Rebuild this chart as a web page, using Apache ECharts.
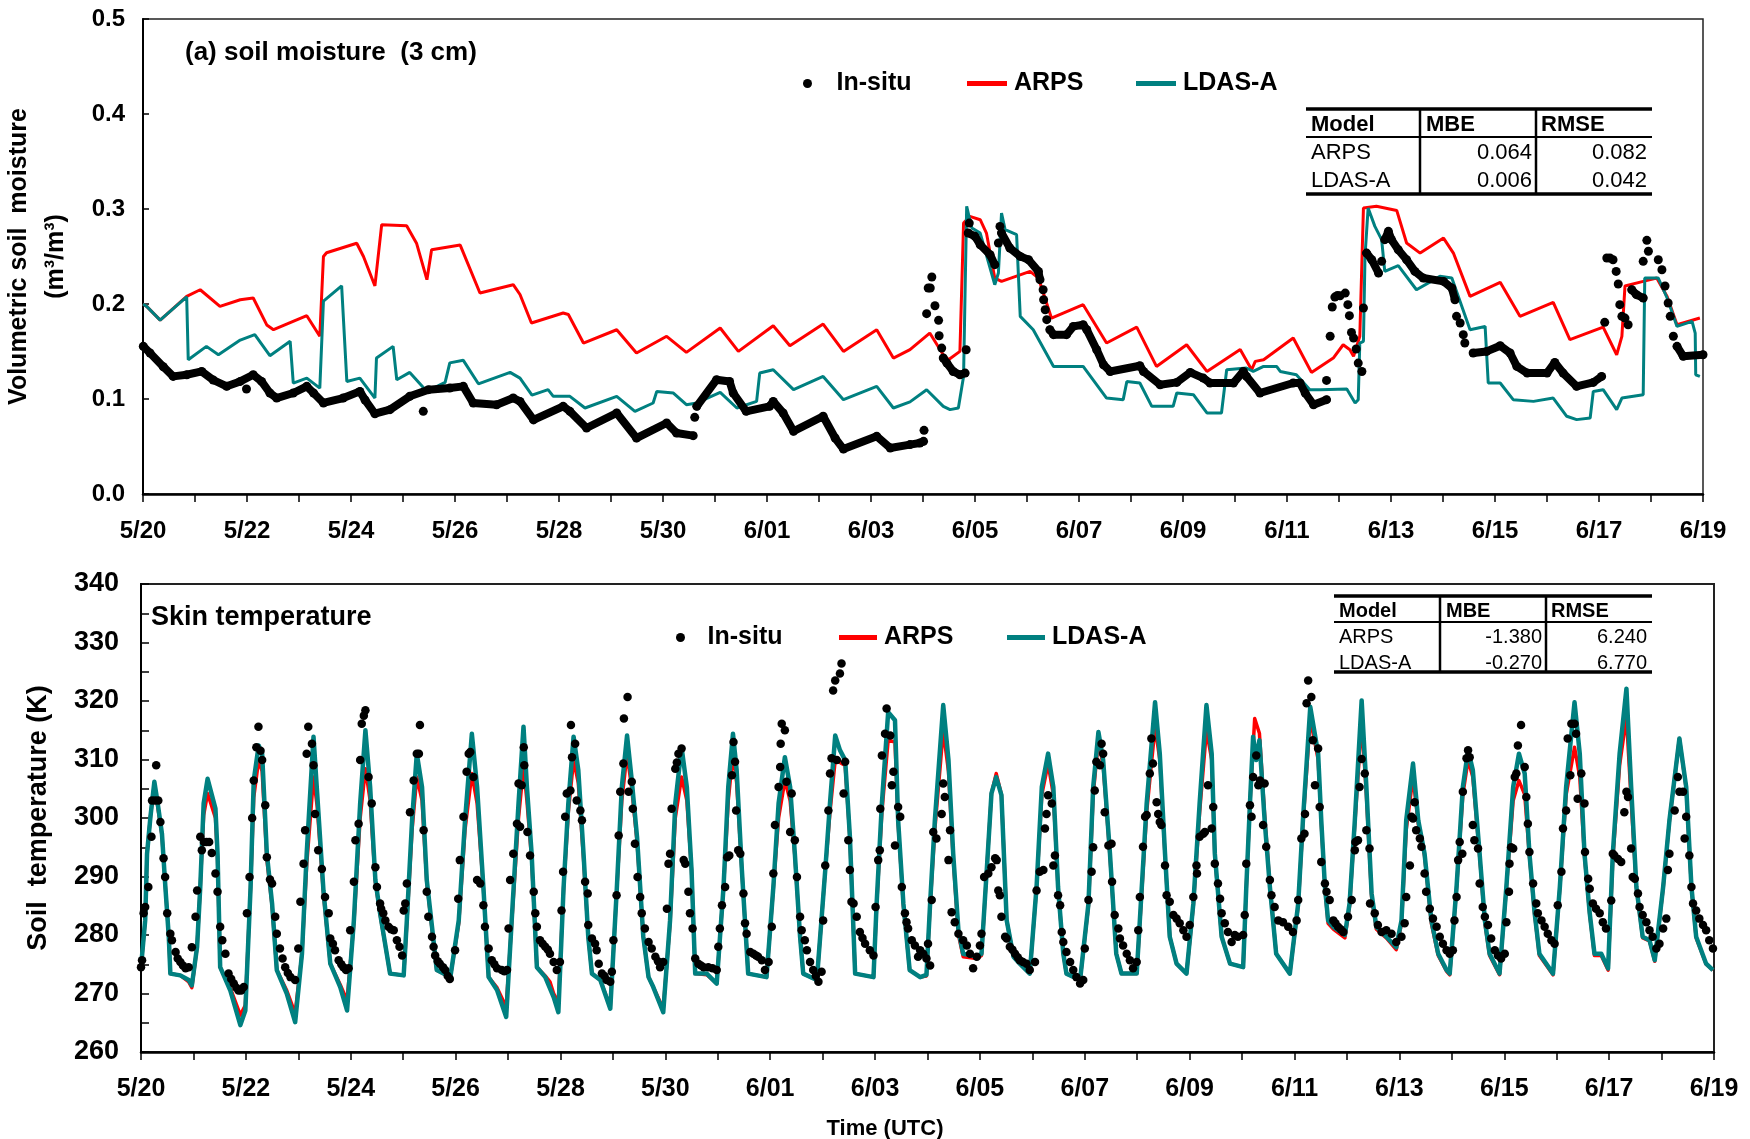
<!DOCTYPE html>
<html><head><meta charset="utf-8">
<script src="https://cdn.jsdelivr.net/npm/echarts/dist/echarts.min.js"></script>
<style>html,body{margin:0;padding:0;background:#fff}#c{width:1750px;height:1139px}</style>
</head><body><div id="c"></div>
<script>
const FONT = "'Liberation Sans', Arial, sans-serif";
// x values are days after 5/20 00 UTC
const dateLabels = ['5/20','5/22','5/24','5/26','5/28','5/30','6/01','6/03','6/05','6/07','6/09','6/11','6/13','6/15','6/17','6/19'];
const seriesNames = ['In-situ','ARPS','LDAS-A'];
const tableTop = [['Model','MBE','RMSE'],['ARPS','0.064','0.082'],['LDAS-A','0.006','0.042']];
const tableBottom = [['Model','MBE','RMSE'],['ARPS','-1.380','6.240'],['LDAS-A','-0.270','6.770']];

// ---------- (a) soil moisture 3 cm ----------
const smARPS = [[0.0,0.200],[0.07,0.1975],[0.33,0.183],[0.455,0.189],[0.84,0.208],[1.10,0.215],[1.48,0.1975],[1.87,0.2045],[2.12,0.2063],[2.38,0.178],[2.51,0.173],[3.15,0.1877],[3.40,0.166],[3.47,0.250],[3.53,0.254],[4.11,0.264],[4.24,0.250],[4.46,0.219],[4.59,0.2835],[5.07,0.2824],[5.26,0.264],[5.46,0.2256],[5.55,0.257],[6.10,0.262],[6.48,0.2116],[7.12,0.2203],[7.25,0.210],[7.47,0.180],[8.08,0.1905],[8.18,0.189],[8.47,0.1589],[9.11,0.1729],[9.49,0.1484],[10.07,0.166],[10.45,0.1491],[11.10,0.1747],[11.45,0.1501],[12.12,0.1771],[12.44,0.1561],[13.08,0.1789],[13.47,0.1501],[14.11,0.1729],[14.43,0.1431],[14.75,0.152],[15.13,0.1694],[15.39,0.1466],[15.49,0.1414],[15.71,0.1501],[15.78,0.2852],[15.90,0.2922],[16.10,0.2887],[16.22,0.2747],[16.38,0.2273],[16.51,0.2238],[17.06,0.2343],[17.22,0.2273],[17.47,0.1852],[18.08,0.1993],[18.53,0.1589],[19.11,0.1757],[19.49,0.1343],[20.07,0.1571],[20.46,0.129],[21.10,0.152],[21.32,0.1308],[21.39,0.1396],[21.55,0.1414],[22.12,0.1642],[22.47,0.128],[22.89,0.1431],[23.08,0.1571],[23.21,0.1519],[23.28,0.1449],[23.40,0.166],[23.47,0.301],[23.72,0.3028],[24.11,0.2985],[24.30,0.2642],[24.56,0.2536],[25.01,0.2694],[25.20,0.2536],[25.52,0.208],[26.10,0.2228],[26.48,0.187],[27.12,0.2017],[27.44,0.1624],[28.08,0.1757],[28.34,0.1466],[28.44,0.166],[28.50,0.219],[28.85,0.2238],[29.11,0.2273],[29.31,0.208],[29.50,0.1782],[29.94,0.1852]];
const smLDAS = [[0.0,0.200],[0.07,0.1975],[0.33,0.183],[0.455,0.189],[0.84,0.2075],[0.87,0.1414],[1.22,0.1554],[1.45,0.1466],[1.87,0.162],[2.15,0.1677],[2.44,0.1456],[2.83,0.1607],[2.89,0.1168],[3.15,0.122],[3.40,0.1115],[3.47,0.203],[3.82,0.219],[3.92,0.1185],[4.17,0.122],[4.46,0.101],[4.49,0.1431],[4.81,0.1554],[4.88,0.1203],[5.13,0.128],[5.46,0.108],[5.81,0.1175],[5.90,0.138],[6.16,0.1407],[6.45,0.116],[7.06,0.128],[7.25,0.122],[7.48,0.104],[7.79,0.1098],[7.89,0.1028],[8.21,0.1028],[8.50,0.0905],[9.11,0.1028],[9.46,0.087],[9.81,0.0958],[9.88,0.108],[10.20,0.1063],[10.45,0.094],[10.65,0.0958],[11.10,0.107],[11.42,0.0905],[11.80,0.0975],[11.86,0.1273],[12.12,0.1308],[12.51,0.1098],[13.08,0.1238],[13.47,0.0993],[14.11,0.1133],[14.43,0.0905],[14.75,0.097],[15.07,0.1098],[15.39,0.0923],[15.52,0.0888],[15.68,0.0905],[15.78,0.1238],[15.81,0.215],[15.84,0.3028],[15.90,0.2887],[15.94,0.280],[16.10,0.2747],[16.38,0.2203],[16.45,0.2326],[16.51,0.2957],[16.58,0.2782],[16.80,0.2729],[16.87,0.187],[17.12,0.1729],[17.51,0.1343],[18.08,0.1343],[18.53,0.101],[18.85,0.0993],[18.92,0.1185],[19.17,0.1168],[19.40,0.0923],[19.81,0.0923],[19.88,0.1063],[20.20,0.1045],[20.46,0.0853],[20.74,0.0853],[20.84,0.1308],[21.22,0.1326],[21.35,0.129],[21.55,0.1343],[21.80,0.1343],[21.87,0.129],[22.18,0.1255],[22.44,0.1098],[22.64,0.1098],[23.15,0.1105],[23.31,0.0958],[23.37,0.0993],[23.40,0.1589],[23.47,0.1607],[23.50,0.250],[23.56,0.301],[23.69,0.2817],[23.82,0.2677],[23.88,0.2343],[24.14,0.2403],[24.49,0.215],[24.94,0.2291],[25.17,0.2273],[25.52,0.1729],[25.81,0.1764],[25.87,0.1168],[26.10,0.1168],[26.35,0.0993],[26.74,0.0975],[27.12,0.101],[27.38,0.0818],[27.57,0.0783],[27.83,0.080],[27.89,0.108],[28.08,0.1098],[28.34,0.0888],[28.44,0.101],[28.85,0.1045],[28.88,0.2273],[29.14,0.2273],[29.31,0.2063],[29.50,0.1764],[29.79,0.1817],[29.85,0.1694],[29.86,0.1255],[29.94,0.1238]];
// in-situ hourly observations: continuous runs of dots
const smInsituRuns = [
 [[0.006,0.1554],[0.135,0.1484],[0.39,0.134],[0.58,0.1238],[0.84,0.1255],[1.13,0.129],[1.35,0.120],[1.61,0.1133],[1.87,0.1185],[2.12,0.1255],[2.28,0.1185],[2.44,0.1063],[2.57,0.101],[2.89,0.1063],[3.15,0.1133],[3.28,0.1063],[3.47,0.0958],[3.85,0.101],[4.17,0.108],[4.27,0.099],[4.46,0.0845],[4.75,0.0888],[5.13,0.1028],[5.49,0.1098],[5.90,0.1115],[6.16,0.1133],[6.35,0.0958],[6.80,0.094],[7.12,0.101],[7.25,0.0975],[7.51,0.078],[8.08,0.0923],[8.21,0.087],[8.53,0.0695],[9.11,0.0853],[9.49,0.0589],[10.07,0.0747],[10.26,0.0642],[10.58,0.0614]],
 [[10.65,0.0923],[11.03,0.1203],[11.28,0.1185],[11.35,0.1063],[11.60,0.087],[12.05,0.0923],[12.12,0.0975],[12.31,0.0853],[12.51,0.066],[13.08,0.0818],[13.31,0.0589],[13.47,0.0473],[14.11,0.0607],[14.37,0.0484],[14.75,0.052],[14.94,0.0537],[15.01,0.0554]],
 [[15.39,0.1431],[15.46,0.1378],[15.58,0.129],[15.71,0.1255],[15.81,0.1273]],
 [[15.87,0.2747],[16.00,0.2712],[16.10,0.2624],[16.29,0.2519],[16.38,0.2414]],
 [[16.51,0.2747],[16.67,0.2589],[16.87,0.2501],[17.03,0.2466],[17.22,0.2343],[17.25,0.2256]],
 [[17.44,0.1729],[17.51,0.1677],[17.76,0.1677],[17.89,0.1764],[18.08,0.1782],[18.15,0.1729],[18.34,0.1519],[18.47,0.1361],[18.60,0.129],[19.17,0.135],[19.24,0.129],[19.56,0.115],[19.88,0.1175],[20.14,0.128],[20.39,0.122],[20.52,0.1168],[20.97,0.1168],[21.16,0.129],[21.22,0.1238],[21.48,0.1063],[22.12,0.1168],[22.25,0.1168],[22.35,0.1063],[22.51,0.094],[22.76,0.0993]],
 [[23.53,0.2536],[23.63,0.2466],[23.76,0.2326]],
 [[23.88,0.2677],[23.95,0.2765],[24.01,0.2677],[24.14,0.2571],[24.30,0.2466],[24.46,0.2343],[24.62,0.2273],[25.01,0.2238],[25.17,0.2168],[25.23,0.2045]],
 [[25.58,0.1484],[25.84,0.1501],[26.10,0.1561],[26.29,0.1484],[26.42,0.1343],[26.62,0.1273],[27.00,0.1273],[27.15,0.1385],[27.31,0.1273],[27.57,0.1133],[27.89,0.1175],[28.05,0.1238]],
 [[28.63,0.215],[28.72,0.2098],[28.85,0.2063]],
 [[29.50,0.1554],[29.62,0.1449],[30.0,0.1466]]
];
// in-situ isolated dots
const smInsituDots = [[1.99,0.1105],[5.39,0.087],[10.61,0.0807],[15.02,0.067],[15.07,0.1898],[15.10,0.2168],[15.14,0.2168],[15.17,0.2284],[15.23,0.1982],[15.30,0.1828],[15.31,0.1666],[15.36,0.1536],[15.83,0.1519],[15.89,0.2852],[16.45,0.2642],[16.48,0.2817],[17.31,0.215],[17.32,0.2045],[17.35,0.194],[17.38,0.1835],[22.76,0.1196],[22.83,0.166],[22.87,0.1968],[22.92,0.2073],[22.97,0.209],[23.02,0.2087],[23.12,0.2115],[23.17,0.1993],[23.20,0.1877],[23.24,0.1701],[23.28,0.1642],[23.33,0.1526],[23.37,0.1378],[23.44,0.129],[23.47,0.1958],[23.82,0.2449],[25.26,0.187],[25.33,0.18],[25.39,0.1677],[25.42,0.1589],[28.11,0.1807],[28.15,0.2484],[28.21,0.2484],[28.27,0.2466],[28.33,0.2343],[28.37,0.221],[28.40,0.1993],[28.44,0.187],[28.50,0.1852],[28.56,0.1782],[28.85,0.2449],[28.92,0.267],[28.95,0.2555],[29.14,0.2466],[29.21,0.2361],[29.27,0.219],[29.33,0.201],[29.37,0.187],[29.43,0.166]];

// ---------- Skin temperature (K) ----------
const stLDAS = [[0.0,274.5],[0.08,282.5],[0.115,293.9],[0.18,300.2],[0.255,306.2],[0.31,303.0],[0.40,297.3],[0.465,288.2],[0.53,279.7],[0.56,273.4],[0.75,273.1],[0.91,272.3],[0.97,271.4],
[1.07,278.0],[1.13,288.2],[1.195,302.5],[1.27,306.7],[1.42,301.6],[1.46,293.9],[1.51,274.5],[1.70,270.6],[1.895,264.6],
[1.99,267.1],[2.09,288.2],[2.15,306.4],[2.244,312.4],[2.31,311.0],[2.40,293.9],[2.50,285.4],[2.59,274.0],[2.78,270.0],[2.94,265.1],
[3.07,276.8],[3.16,293.9],[3.29,313.9],[3.36,304.2],[3.48,287.6],[3.61,275.1],[3.80,271.1],[3.93,267.1],
[4.06,282.5],[4.18,302.5],[4.28,315.0],[4.37,305.3],[4.47,289.4],[4.56,283.7],[4.75,273.4],[5.01,273.1],
[5.07,282.5],[5.17,299.6],[5.26,311.0],[5.36,305.3],[5.45,289.4],[5.55,281.4],[5.64,274.0],[5.90,272.8],
[6.06,282.5],[6.18,299.6],[6.31,314.4],[6.41,305.3],[6.53,288.2],[6.63,272.8],[6.79,270.6],[6.965,266.0],
[7.07,282.5],[7.20,302.5],[7.295,315.6],[7.36,305.3],[7.45,293.9],[7.55,274.5],[7.71,272.8],[7.87,269.4],[7.96,266.8],
[8.06,288.2],[8.15,302.5],[8.25,313.9],[8.34,308.2],[8.44,293.9],[8.53,279.7],[8.60,273.4],[8.76,272.3],[8.95,267.4],
[9.07,287.1],[9.17,305.3],[9.27,314.1],[9.36,306.4],[9.46,296.8],[9.58,279.7],[9.68,272.8],[9.77,271.1],[9.96,266.8],
[10.09,282.5],[10.19,302.5],[10.31,312.1],[10.41,305.3],[10.50,291.1],[10.57,273.4],[10.79,273.4],[10.98,271.7],
[11.11,288.2],[11.20,305.3],[11.29,314.4],[11.36,308.2],[11.46,291.1],[11.58,273.4],[11.93,272.8],
[12.06,288.2],[12.16,302.5],[12.28,310.4],[12.38,305.3],[12.47,293.9],[12.57,279.7],[12.63,273.4],[12.89,272.3],
[13.05,291.1],[13.14,302.5],[13.24,314.1],[13.33,311.6],[13.43,309.9],[13.52,296.8],[13.62,273.4],[13.97,272.8],
[14.03,285.4],[14.13,302.5],[14.25,318.1],[14.38,316.7],[14.44,299.6],[14.54,285.4],[14.66,274.0],[14.86,272.8],[14.98,273.2],
[15.05,285.4],[15.14,299.6],[15.30,319.3],[15.40,309.9],[15.49,293.9],[15.59,280.8],[15.68,276.8],[15.94,276.3],[16.03,276.8],
[16.13,291.1],[16.22,304.2],[16.31,307.0],[16.41,303.9],[16.51,282.5],[16.64,276.3],[16.76,275.1],[16.95,273.4],
[17.08,288.2],[17.18,305.3],[17.30,311.0],[17.40,305.3],[17.49,288.2],[17.59,276.8],[17.65,273.4],[17.91,272.3],
[18.07,285.4],[18.16,305.3],[18.26,314.7],[18.35,309.9],[18.48,293.9],[18.60,276.8],[18.70,273.4],[18.99,273.4],
[19.05,282.5],[19.18,302.5],[19.34,319.8],[19.43,311.0],[19.53,293.9],[19.62,279.7],[19.75,275.1],[19.94,273.4],
[20.07,285.4],[20.19,302.5],[20.32,319.3],[20.42,311.0],[20.48,293.9],[20.61,279.7],[20.77,275.1],[21.02,274.5],
[21.08,288.2],[21.15,302.5],[21.21,313.9],[21.27,309.9],[21.33,313.3],[21.43,299.6],[21.53,288.2],[21.65,276.8],[21.91,273.4],
[22.07,285.4],[22.16,299.6],[22.30,319.0],[22.45,311.0],[22.51,299.6],[22.58,288.2],[22.64,282.5],[22.74,281.4],[22.96,280.0],
[23.05,285.4],[23.15,299.6],[23.28,320.1],[23.37,305.3],[23.47,287.1],[23.56,281.4],[23.75,279.7],[23.94,277.9],
[24.04,282.5],[24.13,299.6],[24.26,309.3],[24.36,299.6],[24.48,293.9],[24.61,282.5],[24.74,276.8],[24.90,274.0],[24.96,273.4],
[25.09,288.2],[25.21,305.3],[25.31,311.6],[25.40,308.2],[25.53,293.9],[25.63,282.5],[25.72,276.8],[25.91,273.4],
[26.04,288.2],[26.17,305.3],[26.28,311.0],[26.39,307.6],[26.48,293.9],[26.58,283.7],[26.67,276.8],[26.93,273.4],
[27.06,288.2],[27.18,305.3],[27.34,319.8],[27.44,311.0],[27.53,293.9],[27.63,283.7],[27.72,276.8],[27.85,276.8],[27.98,274.3],
[28.07,293.9],[28.20,311.0],[28.33,322.1],[28.42,305.3],[28.52,288.2],[28.64,279.7],[28.77,279.1],[28.87,275.7],
[29.03,288.2],[29.15,299.6],[29.34,313.6],[29.47,305.3],[29.57,288.2],[29.66,279.7],[29.85,275.1],[29.98,274.0]];
const stARPS = [[0.0,274.5],[0.08,282.5],[0.115,293.9],[0.18,300.2],[0.255,305.8],[0.31,302.5],[0.40,297.0],[0.465,288.2],[0.53,279.7],[0.56,273.4],[0.75,273.1],[0.91,272.0],[0.97,271.0],
[1.07,278.0],[1.13,288.2],[1.195,300.5],[1.27,304.2],[1.42,300.0],[1.46,293.0],[1.51,274.5],[1.70,271.0],[1.895,266.3],
[1.99,268.0],[2.09,288.2],[2.15,303.5],[2.244,309.9],[2.31,308.0],[2.40,293.0],[2.50,285.0],[2.59,274.0],[2.78,270.5],[2.94,266.6],
[3.07,276.8],[3.16,292.0],[3.29,307.0],[3.36,302.0],[3.48,287.0],[3.61,275.1],[3.80,271.5],[3.93,268.8],
[4.06,282.0],[4.18,300.0],[4.28,308.4],[4.37,303.0],[4.47,289.0],[4.56,283.5],[4.75,273.4],[5.01,273.1],
[5.07,282.0],[5.17,298.0],[5.26,307.0],[5.36,303.0],[5.45,289.0],[5.55,281.0],[5.64,274.0],[5.90,272.8],
[6.06,282.0],[6.18,298.0],[6.31,307.6],[6.41,302.5],[6.53,288.0],[6.63,272.8],[6.79,271.0],[6.965,267.7],
[7.07,282.0],[7.20,300.0],[7.295,308.7],[7.36,303.0],[7.45,293.0],[7.55,274.5],[7.71,273.0],[7.80,272.0],[7.87,270.0],[7.96,268.5],
[8.06,288.0],[8.15,301.0],[8.25,309.9],[8.34,306.0],[8.44,293.0],[8.53,279.7],[8.60,273.4],[8.76,272.3],[8.95,267.7],
[9.07,287.0],[9.17,303.0],[9.27,311.0],[9.36,305.0],[9.46,296.0],[9.58,279.7],[9.68,272.8],[9.77,271.1],[9.96,267.4],
[10.09,282.0],[10.19,300.0],[10.31,307.0],[10.41,303.0],[10.50,291.0],[10.57,273.4],[10.79,273.2],[10.98,271.7],
[11.11,288.0],[11.20,303.0],[11.29,311.0],[11.36,306.0],[11.46,291.0],[11.58,273.4],[11.93,272.8],
[12.06,288.0],[12.16,300.0],[12.28,306.4],[12.38,303.0],[12.47,293.5],[12.57,279.7],[12.63,273.4],[12.89,272.3],
[13.05,291.0],[13.14,301.0],[13.24,309.9],[13.33,309.5],[13.43,309.0],[13.52,296.5],[13.62,273.4],[13.97,272.8],
[14.03,285.0],[14.13,301.0],[14.25,313.3],[14.38,313.0],[14.44,299.0],[14.54,285.0],[14.66,274.0],[14.86,272.8],[14.98,273.0],
[15.05,285.0],[15.14,298.0],[15.30,315.0],[15.40,308.0],[15.49,293.0],[15.59,280.0],[15.68,276.3],[15.94,276.0],[16.03,276.5],
[16.13,291.1],[16.22,304.2],[16.31,307.6],[16.41,304.0],[16.51,282.5],[16.64,276.3],[16.76,275.1],[16.95,273.4],
[17.08,288.0],[17.18,304.0],[17.30,309.3],[17.40,304.0],[17.49,288.0],[17.59,276.8],[17.65,273.4],[17.91,272.3],
[18.07,285.0],[18.16,304.0],[18.26,313.3],[18.35,309.0],[18.48,293.5],[18.60,276.8],[18.70,273.4],[18.99,273.4],
[19.05,282.0],[19.18,301.0],[19.34,315.6],[19.43,310.0],[19.53,293.5],[19.62,279.7],[19.75,275.1],[19.94,273.4],
[20.07,285.0],[20.19,301.0],[20.32,315.0],[20.42,310.0],[20.48,293.5],[20.61,279.7],[20.77,275.1],[21.02,274.5],
[21.08,288.0],[21.15,302.5],[21.24,317.0],[21.33,314.5],[21.43,300.5],[21.53,288.5],[21.65,276.8],[21.91,273.4],
[22.07,285.0],[22.16,299.0],[22.30,317.0],[22.45,310.0],[22.51,299.0],[22.58,288.0],[22.64,282.0],[22.74,281.0],[22.96,279.5],
[23.05,285.0],[23.15,299.0],[23.28,316.7],[23.37,304.0],[23.47,286.5],[23.56,281.0],[23.75,279.5],[23.94,277.5],
[24.04,282.0],[24.13,298.0],[24.26,307.0],[24.36,299.0],[24.48,293.5],[24.61,282.0],[24.74,276.5],[24.90,273.8],[24.96,273.2],
[25.09,288.0],[25.21,304.0],[25.31,309.9],[25.40,307.0],[25.53,293.5],[25.63,282.0],[25.72,276.5],[25.91,273.2],
[26.04,288.0],[26.17,303.0],[26.28,306.4],[26.39,304.0],[26.48,293.5],[26.58,283.5],[26.67,276.5],[26.93,273.2],
[27.06,288.0],[27.18,304.0],[27.34,312.1],[27.44,307.0],[27.53,293.5],[27.63,283.5],[27.72,276.5],[27.85,276.5],[27.98,274.0],
[28.07,293.0],[28.20,309.0],[28.33,317.3],[28.42,303.0],[28.52,288.0],[28.64,279.5],[28.77,279.0],[28.87,275.5],
[29.03,288.0],[29.15,299.5],[29.34,313.6],[29.47,305.0],[29.57,288.0],[29.66,279.5],[29.85,275.0],[29.98,274.0]];
const stInsitu = [
[0.0,274.5],[0.02,275.7],[0.05,283.7],[0.08,284.8],[0.14,288.2],[0.20,296.8],[0.21,303.0],[0.27,303.0],[0.29,309.0],[0.33,303.0],[0.37,299.3],[0.43,293.1],[0.46,289.9],[0.50,283.7],[0.56,280.2],[0.59,279.1],[0.66,277.1],[0.70,276.0],[0.75,275.4],[0.80,274.8],[0.85,274.3],[0.91,274.5],[0.97,277.9],
[1.04,283.1],[1.07,287.6],[1.13,296.8],[1.16,294.5],[1.20,295.9],[1.25,295.9],[1.30,295.9],[1.35,294.0],[1.42,290.5],[1.46,287.4],[1.51,281.4],[1.55,279.1],[1.61,276.8],[1.67,273.4],[1.72,272.5],[1.77,271.7],[1.82,271.0],[1.86,270.5],[1.91,270.5],[1.96,271.1],
[2.02,283.7],[2.07,289.9],[2.12,300.0],[2.15,306.4],[2.20,312.1],[2.24,315.6],[2.28,311.5],[2.31,309.9],[2.37,302.2],[2.40,293.3],[2.46,289.5],[2.50,288.8],[2.56,283.1],[2.59,280.2],[2.65,277.7],[2.70,276.0],[2.75,274.5],[2.80,273.5],[2.85,272.8],[2.94,272.3],[3.00,277.7],
[3.04,285.7],[3.10,292.2],[3.13,297.9],[3.16,311.0],[3.19,315.6],[3.26,312.7],[3.29,309.0],[3.32,300.7],[3.38,294.5],[3.45,291.3],[3.51,286.5],[3.58,283.7],[3.61,279.4],[3.66,278.5],[3.70,277.4],[3.77,275.7],[3.82,275.0],[3.86,274.5],[3.91,274.0],[3.96,274.3],[3.99,280.8],
[4.06,289.1],[4.09,296.2],[4.15,299.0],[4.18,309.9],[4.21,316.1],[4.25,317.5],[4.28,318.4],[4.34,307.0],[4.40,302.5],[4.47,291.6],[4.50,288.2],[4.56,285.4],[4.58,284.5],[4.62,283.7],[4.66,282.5],[4.72,281.4],[4.77,281.0],[4.82,280.8],[4.88,279.1],[4.93,278.0],[4.98,276.5],[5.01,284.2],
[5.04,285.4],[5.07,288.8],[5.13,301.0],[5.20,306.4],[5.26,311.0],[5.30,311.0],[5.32,315.9],[5.39,297.9],[5.45,287.4],[5.48,283.1],[5.55,279.7],[5.58,278.0],[5.61,276.5],[5.66,275.5],[5.70,275.1],[5.76,274.5],[5.80,274.0],[5.85,273.0],[5.89,272.5],[5.99,277.4],
[6.05,286.2],[6.08,292.8],[6.15,300.2],[6.21,307.9],[6.25,311.0],[6.28,311.3],[6.34,307.0],[6.41,289.4],[6.47,288.8],[6.53,285.1],[6.56,281.4],[6.63,277.7],[6.69,275.7],[6.74,275.0],[6.79,274.3],[6.88,274.0],[6.93,273.8],[6.98,274.0],[7.01,281.1],
[7.04,289.4],[7.10,293.9],[7.17,299.0],[7.20,305.9],[7.23,298.5],[7.26,305.6],[7.30,312.1],[7.31,309.0],[7.37,297.6],[7.42,293.6],[7.49,287.4],[7.52,283.7],[7.55,281.4],[7.61,279.1],[7.66,278.5],[7.71,278.0],[7.76,277.5],[7.80,276.8],[7.87,275.4],[7.93,274.0],[7.99,275.4],
[8.02,284.2],[8.05,290.8],[8.09,300.2],[8.12,304.2],[8.19,304.7],[8.20,315.9],[8.22,310.4],[8.28,312.7],[8.31,303.0],[8.38,301.3],[8.41,299.6],[8.47,289.1],[8.52,287.1],[8.53,281.7],[8.60,279.4],[8.66,278.5],[8.69,277.4],[8.73,275.1],[8.79,273.4],[8.84,273.0],[8.88,272.3],[8.95,272.0],[8.98,273.7],
[9.01,279.1],[9.07,286.8],[9.11,297.0],[9.14,304.5],[9.20,309.3],[9.21,317.0],[9.28,320.7],[9.30,304.5],[9.36,306.2],[9.38,301.6],[9.42,295.6],[9.47,289.9],[9.52,286.5],[9.55,283.7],[9.61,281.1],[9.68,278.8],[9.74,277.7],[9.81,276.3],[9.86,275.5],[9.90,274.5],[9.96,275.4],
[10.03,284.5],[10.06,292.2],[10.09,293.9],[10.12,301.6],[10.19,308.4],[10.22,309.5],[10.25,311.0],[10.31,311.9],[10.35,292.8],[10.38,292.2],[10.44,287.4],[10.47,283.7],[10.52,281.1],[10.57,276.0],[10.63,275.1],[10.68,274.8],[10.73,274.5],[10.82,274.5],[10.90,274.3],[10.98,274.0],[11.01,278.0],
[11.04,281.1],[11.08,285.1],[11.14,288.2],[11.18,293.3],[11.22,293.6],[11.27,307.3],[11.30,313.0],[11.33,309.6],[11.35,301.3],[11.39,294.5],[11.43,293.9],[11.49,287.1],[11.52,282.0],[11.55,280.2],[11.62,277.1],[11.68,276.8],[11.73,276.5],[11.77,276.3],[11.84,275.7],[11.90,274.0],[11.97,275.4],
[12.03,281.4],[12.06,290.5],[12.09,298.8],[12.16,305.3],[12.19,308.7],[12.20,312.7],[12.22,316.1],[12.28,315.0],[12.31,306.2],[12.38,297.6],[12.41,304.2],[12.47,296.2],[12.51,289.9],[12.57,283.1],[12.60,280.8],[12.66,279.1],[12.70,277.4],[12.76,275.4],[12.82,274.0],[12.87,273.0],[12.92,272.0],[12.98,273.7],
[13.01,282.5],[13.05,291.9],[13.11,301.3],[13.14,307.6],[13.17,310.2],[13.20,321.8],[13.24,323.5],[13.27,309.9],[13.33,324.7],[13.36,326.4],[13.40,304.2],[13.43,309.6],[13.49,296.2],[13.52,291.1],[13.55,285.7],[13.59,285.4],[13.65,283.1],[13.71,280.5],[13.76,279.5],[13.81,278.5],[13.90,277.4],[13.97,276.5],[14.01,284.8],
[14.06,292.8],[14.09,294.5],[14.10,301.6],[14.13,310.7],[14.19,314.4],[14.22,318.7],[14.29,314.1],[14.32,305.6],[14.35,307.9],[14.38,295.3],[14.44,301.9],[14.48,300.2],[14.51,288.2],[14.57,283.7],[14.60,282.2],[14.63,281.1],[14.70,279.1],[14.76,278.2],[14.82,276.3],[14.86,277.4],[14.92,276.8],[14.98,276.0],[15.01,278.5],[15.05,274.8],
[15.08,286.0],[15.11,297.6],[15.17,296.5],[15.27,300.7],[15.30,305.9],[15.33,303.6],[15.40,292.8],[15.43,297.9],[15.46,283.9],[15.52,282.2],[15.59,280.2],[15.68,279.1],[15.75,278.2],[15.81,276.8],[15.87,274.3],[15.94,276.3],[16.00,278.2],[16.03,280.2],
[16.08,289.9],[16.16,290.5],[16.22,291.6],[16.29,293.1],[16.32,292.8],[16.35,287.6],[16.38,286.8],[16.41,283.1],[16.48,279.7],[16.51,279.4],[16.57,278.0],[16.62,277.5],[16.67,276.8],[16.72,276.2],[16.76,275.7],[16.82,275.4],[16.89,275.1],[16.95,274.0],[17.05,275.4],
[17.08,287.6],[17.14,290.8],[17.21,291.1],[17.24,298.2],[17.27,300.7],[17.30,303.9],[17.37,302.5],[17.40,291.9],[17.43,293.6],[17.49,286.8],[17.53,285.1],[17.56,280.5],[17.59,278.8],[17.65,277.1],[17.72,275.4],[17.78,274.0],[17.84,272.8],[17.91,271.7],[17.97,272.3],[18.00,277.7],
[18.07,286.0],[18.13,290.8],[18.16,295.0],[18.19,304.7],[18.22,309.6],[18.29,309.0],[18.32,312.7],[18.35,311.0],[18.38,301.0],[18.45,295.3],[18.51,295.6],[18.52,289.1],[18.57,283.4],[18.64,281.1],[18.67,279.4],[18.73,278.2],[18.80,276.8],[18.86,275.7],[18.92,274.3],[18.99,275.4],[19.02,280.8],
[19.05,286.5],[19.11,295.1],[19.15,300.2],[19.18,300.5],[19.24,307.6],[19.27,313.6],[19.30,309.3],[19.37,302.7],[19.40,300.7],[19.43,299.3],[19.46,298.8],[19.53,291.9],[19.56,286.8],[19.62,285.7],[19.69,283.4],[19.75,282.8],[19.81,282.0],[19.88,280.8],[19.94,279.7],[20.00,281.7],[20.07,286.5],
[20.13,291.9],[20.14,290.5],[20.19,296.8],[20.26,297.3],[20.29,297.6],[20.35,305.6],[20.42,298.2],[20.45,301.9],[20.48,292.2],[20.54,288.8],[20.58,286.2],[20.61,283.7],[20.67,282.0],[20.73,280.5],[20.80,278.8],[20.86,280.0],[20.92,279.7],[21.02,280.0],[21.05,283.4],
[21.08,292.2],[21.15,302.2],[21.18,300.2],[21.21,307.0],[21.27,310.7],[21.31,305.6],[21.34,306.4],[21.40,298.8],[21.43,305.9],[21.46,295.1],[21.53,289.4],[21.56,286.8],[21.62,284.8],[21.69,282.5],[21.78,282.2],[21.88,281.4],[21.97,280.5],[22.04,282.5],[22.07,286.0],
[22.13,296.5],[22.19,297.3],[22.20,300.7],[22.23,319.6],[22.26,323.5],[22.32,320.7],[22.35,313.3],[22.39,305.6],[22.45,311.9],[22.48,301.9],[22.51,292.5],[22.58,288.8],[22.61,287.4],[22.67,286.0],[22.74,282.5],[22.78,282.0],[22.83,281.4],[22.88,281.0],[22.93,280.5],[23.02,283.1],[23.09,286.0],
[23.15,294.5],[23.16,295.9],[23.21,296.2],[23.24,305.3],[23.28,310.1],[23.34,307.6],[23.37,297.9],[23.43,294.8],[23.44,285.4],[23.53,283.7],[23.59,281.7],[23.66,280.5],[23.75,280.8],[23.85,280.2],[23.94,278.8],[24.04,279.7],[24.10,282.0],[24.13,286.5],[24.20,291.9],
[24.23,300.2],[24.26,299.9],[24.29,302.7],[24.32,297.9],[24.39,296.5],[24.42,295.1],[24.48,290.5],[24.51,287.4],[24.58,284.5],[24.64,282.8],[24.71,281.4],[24.77,279.7],[24.83,278.5],[24.90,277.4],[24.96,276.8],[25.02,277.4],[25.05,282.5],[25.09,286.5],
[25.12,292.8],[25.15,295.9],[25.20,293.9],[25.21,304.5],[25.28,310.2],[25.31,311.6],[25.34,310.4],[25.40,298.8],[25.43,296.2],[25.50,294.8],[25.53,288.8],[25.59,284.8],[25.63,283.1],[25.69,281.7],[25.75,279.4],[25.82,277.4],[25.88,276.5],[25.94,276.0],[26.01,276.8],[26.04,282.2],
[26.09,287.4],[26.10,292.2],[26.13,295.0],[26.17,294.8],[26.20,307.0],[26.23,307.6],[26.26,312.4],[26.32,315.9],[26.39,308.7],[26.42,303.6],[26.45,299.0],[26.48,294.2],[26.55,288.8],[26.61,285.4],[26.64,283.7],[26.71,282.5],[26.77,281.4],[26.83,280.2],[26.90,279.1],[26.96,278.5],[27.02,285.1],[27.09,290.8],
[27.12,298.2],[27.18,301.3],[27.21,313.6],[27.26,307.3],[27.28,316.1],[27.34,316.1],[27.37,314.4],[27.40,303.3],[27.47,307.6],[27.53,302.5],[27.54,294.2],[27.60,289.6],[27.63,287.9],[27.69,285.4],[27.75,284.5],[27.82,283.7],[27.88,282.2],[27.94,281.1],[28.04,285.9],[28.07,293.9],[28.10,293.6],
[28.17,293.0],[28.23,292.5],[28.29,301.0],[28.33,304.5],[28.36,303.6],[28.42,294.8],[28.45,289.9],[28.49,289.6],[28.55,287.1],[28.58,284.8],[28.64,283.4],[28.71,282.2],[28.77,280.8],[28.83,279.7],[28.90,277.7],[28.96,278.5],[29.03,281.1],[29.09,282.8],[29.12,291.1],[29.15,293.9],
[29.25,301.3],[29.31,307.0],[29.34,304.5],[29.41,304.5],[29.44,296.5],[29.47,300.2],[29.53,293.6],[29.57,288.2],[29.60,285.4],[29.66,284.2],[29.72,282.8],[29.79,281.7],[29.85,280.8],[29.91,279.1],[29.98,277.7]];

// ---------- build options ----------
const RED = '#ff0000', TEAL = '#008080', BLACK = '#000000';
const insituLineData = [];
smInsituRuns.forEach((run, i) => { if (i) insituLineData.push(null); run.forEach(p => insituLineData.push(p)); });

function xAxisCfg(grid, fs, margin) {
  return {
    gridIndex: grid, type: 'value', min: 0, max: 30, interval: 2,
    axisLine: { show: true, onZero: false, lineStyle: { color: BLACK, width: 2.5 } },
    axisTick: { show: true, length: 8, lineStyle: { color: BLACK, width: 1.5 } },
    minorTick: { show: true, splitNumber: 2, length: 8, lineStyle: { color: BLACK, width: 1.5 } },
    splitLine: { show: false }, minorSplitLine: { show: false },
    axisLabel: { margin: margin, color: BLACK, fontWeight: 'bold', fontSize: fs, fontFamily: FONT,
      formatter: v => dateLabels[Math.round(v / 2)] }
  };
}
function legendItem(name, left, top, icon, w, h, pad) {
  return { data: [{ name: name, icon: icon }], left: left, top: top, orient: 'horizontal', padding: 0,
    itemWidth: w, itemHeight: h, itemGap: 0, selectedMode: false,
    textStyle: { color: BLACK, fontSize: 25, fontWeight: 'bold', fontFamily: FONT, padding: [0, 0, 0, pad || 2] } };
}
function txt(x, y, s, bold, size, align) {
  return { type: 'text', x: x, y: y, style: { text: s, fill: BLACK, font: (bold ? 'bold ' : '') + size + 'px ' + FONT,
    textAlign: align || 'left', textVerticalAlign: 'middle', align: align || 'left', verticalAlign: 'middle' } };
}
function ln(x1, y1, x2, y2, w) {
  return { type: 'line', shape: { x1: x1, y1: y1, x2: x2, y2: y2 }, style: { stroke: BLACK, lineWidth: w } };
}
function table(rows, x0, x1, xc1, xc2, yTop, yHead, yBot, rowY, size) {
  const els = [ln(x0, yTop, x1, yTop, 3.5), ln(x0, yHead, x1, yHead, 2), ln(x0, yBot, x1, yBot, 3.5),
    ln(xc1, yTop, xc1, yBot, 2.5), ln(xc2, yTop, xc2, yBot, 2.5)];
  rows.forEach((r, i) => {
    const y = rowY[i];
    if (i === 0) {
      els.push(txt(x0 + 5, y, r[0], true, size), txt(xc1 + 6, y, r[1], true, size), txt(xc2 + 5, y, r[2], true, size));
    } else {
      els.push(txt(x0 + 5, y, r[0], false, size), txt(xc2 - 4, y, r[1], false, size, 'right'), txt(x1 - 5, y, r[2], false, size, 'right'));
    }
  });
  return els;
}

const option = {
  animation: false,
  backgroundColor: '#ffffff',
  grid: [
    { left: 143, top: 19, width: 1560, height: 475, show: true, borderColor: '#222', borderWidth: 1.5, backgroundColor: 'transparent', outerBoundsMode: 'none' },
    { left: 141, top: 584, width: 1573, height: 468, show: true, borderColor: '#222', borderWidth: 2, backgroundColor: 'transparent', outerBoundsMode: 'none' }
  ],
  xAxis: [xAxisCfg(0, 24, 25), xAxisCfg(1, 25, 25)],
  yAxis: [
    { gridIndex: 0, type: 'value', min: 0, max: 0.5, interval: 0.1,
      axisLine: { show: true, lineStyle: { color: BLACK, width: 2 } },
      axisTick: { show: true, inside: true, length: 6, lineStyle: { color: BLACK, width: 1.5 } },
      splitLine: { show: false },
      axisLabel: { margin: 18, color: BLACK, fontWeight: 'bold', fontSize: 24, fontFamily: FONT, formatter: v => v.toFixed(1) },
      name: 'Volumetric soil  moisture\n(m³/m³)', nameLocation: 'middle', nameRotate: 90, nameGap: 68,
      nameTextStyle: { color: BLACK, fontWeight: 'bold', fontSize: 25, fontFamily: FONT, lineHeight: 37 } },
    { gridIndex: 1, type: 'value', min: 260, max: 340, interval: 10,
      axisLine: { show: true, lineStyle: { color: BLACK, width: 2 } },
      axisTick: { show: true, inside: true, length: 8, lineStyle: { color: BLACK, width: 1.5 } },
      minorTick: { show: true, splitNumber: 2, length: 8, lineStyle: { color: BLACK, width: 1.5 } },
      splitLine: { show: false }, minorSplitLine: { show: false },
      axisLabel: { margin: 22, color: BLACK, fontWeight: 'bold', fontSize: 27, fontFamily: FONT },
      name: 'Soil  temperature (K)', nameLocation: 'middle', nameRotate: 90, nameGap: 89,
      nameTextStyle: { color: BLACK, fontWeight: 'bold', fontSize: 27, fontFamily: FONT } }
  ],
  legend: [
    legendItem(seriesNames[0], 803, 71, 'circle', 10, 9, 19),
    legendItem(seriesNames[1], 967, 71, 'rect', 40, 5),
    legendItem(seriesNames[2], 1136, 71, 'rect', 40, 5),
    legendItem(seriesNames[0], 676, 625, 'circle', 10, 9, 17),
    legendItem(seriesNames[1], 839, 625, 'rect', 38, 5),
    legendItem(seriesNames[2], 1007, 625, 'rect', 38, 5)
  ],
  series: [
    { name: 'ARPS', type: 'line', xAxisIndex: 0, yAxisIndex: 0, data: smARPS, showSymbol: false, symbol: 'none',
      itemStyle: { color: RED }, lineStyle: { color: RED, width: 3 }, z: 2 },
    { name: 'LDAS-A', type: 'line', xAxisIndex: 0, yAxisIndex: 0, data: smLDAS, showSymbol: false, symbol: 'none',
      itemStyle: { color: TEAL }, lineStyle: { color: TEAL, width: 3 }, z: 3 },
    { name: 'In-situ', type: 'line', xAxisIndex: 0, yAxisIndex: 0, data: insituLineData, connectNulls: false,
      symbol: 'circle', symbolSize: 9, showSymbol: true, showAllSymbol: true,
      itemStyle: { color: BLACK, opacity: 1 }, lineStyle: { color: BLACK, width: 8, cap: 'round', join: 'round', opacity: 1 }, z: 4 },
    { name: 'In-situ', type: 'scatter', xAxisIndex: 0, yAxisIndex: 0, data: smInsituDots, symbolSize: 9,
      itemStyle: { color: BLACK, opacity: 1 }, z: 5 },
    { name: 'ARPS', type: 'line', xAxisIndex: 1, yAxisIndex: 1, data: stARPS, showSymbol: false, symbol: 'none',
      itemStyle: { color: RED }, lineStyle: { color: RED, width: 3.5, join: 'round' }, z: 2 },
    { name: 'LDAS-A', type: 'line', xAxisIndex: 1, yAxisIndex: 1, data: stLDAS, showSymbol: false, symbol: 'none',
      itemStyle: { color: TEAL }, lineStyle: { color: TEAL, width: 4.5, join: 'round' }, z: 3 },
    { name: 'In-situ', type: 'scatter', xAxisIndex: 1, yAxisIndex: 1, data: stInsitu, symbolSize: 8.5,
      itemStyle: { color: BLACK, opacity: 1 }, z: 5 }
  ],
  graphic: { elements: [
    txt(185, 53, '(a) soil moisture  (3 cm)', true, 26),
    txt(151, 618, 'Skin temperature', true, 27),
    txt(885, 1129, 'Time (UTC)', true, 22, 'center'),
    ...table(tableTop, 1306, 1652, 1420, 1536, 109, 137, 194, [125, 153, 181], 22),
    ...table(tableBottom, 1334, 1652, 1440, 1546, 596, 622, 672, [611, 637, 663], 20)
  ] }
};
const chart = echarts.init(document.getElementById('c'), null, { renderer: 'canvas', width: 1750, height: 1139 });
chart.setOption(option);
</script>
</body></html>
